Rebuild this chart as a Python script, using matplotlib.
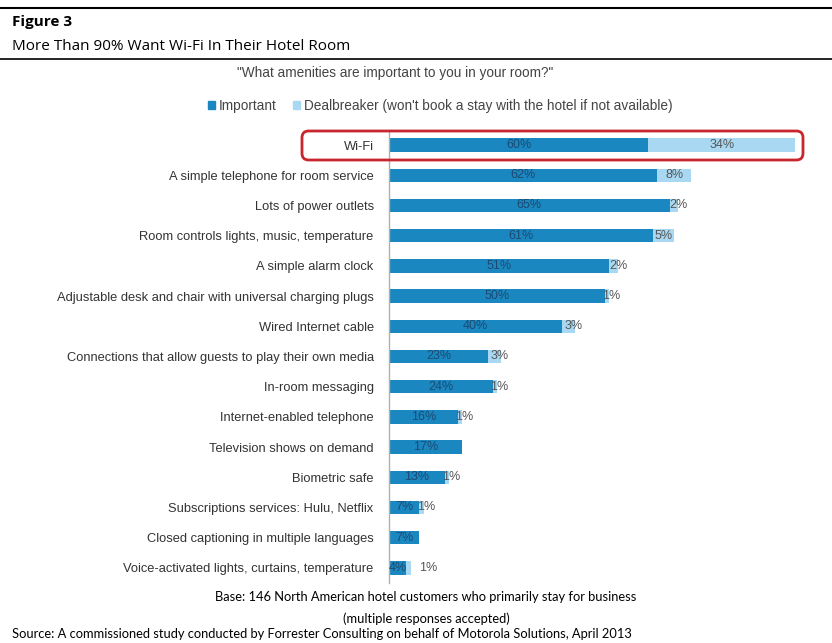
import matplotlib
matplotlib.use("Agg")
import matplotlib.pyplot as plt
from matplotlib.patches import FancyBboxPatch, Rectangle
from matplotlib.lines import Line2D

categories = [
    "Wi-Fi",
    "A simple telephone for room service",
    "Lots of power outlets",
    "Room controls lights, music, temperature",
    "A simple alarm clock",
    "Adjustable desk and chair with universal charging plugs",
    "Wired Internet cable",
    "Connections that allow guests to play their own media",
    "In-room messaging",
    "Internet-enabled telephone",
    "Television shows on demand",
    "Biometric safe",
    "Subscriptions services: Hulu, Netflix",
    "Closed captioning in multiple languages",
    "Voice-activated lights, curtains, temperature",
]
important = [60, 62, 65, 61, 51, 50, 40, 23, 24, 16, 17, 13, 7, 7, 4]
dealbreaker = [34, 8, 2, 5, 2, 1, 3, 3, 1, 1, 0, 1, 1, 0, 1]

c_imp = "#1a87c0"
c_deal = "#a9d9f2"
c_imp_txt = "#1c4a72"
c_deal_txt = "#555555"

W, H = 832, 643
fig = plt.figure(figsize=(W / 100, H / 100), dpi=100)

# axes placed by pixel positions of the reference
ax = fig.add_axes([389 / W, 1 - 583 / H, 432 / W, 453 / H])
y = list(range(len(categories)))
ax.barh(y, important, height=0.45, color=c_imp)
ax.barh(y, dealbreaker, left=important, height=0.45, color=c_deal)

for i in y:
    ax.text(important[i] / 2, i, f"{important[i]}%", ha="center", va="center",
            fontsize=9, color=c_imp_txt, family="Liberation Sans")
    d = dealbreaker[i]
    if d > 0:
        # small segments: label sits just past the end of the bar
        if d >= 5:
            xc = important[i] + d / 2
        else:
            xc = important[i] + 0.6 * d + 0.9
        if i == len(categories) - 1:
            xc = important[i] + 5.1
        ax.text(xc, i, f"{d}%", ha="center", va="center",
                fontsize=9, color=c_deal_txt, family="Liberation Sans")

ax.set_xlim(0, 100)
ax.set_ylim(len(categories) - 0.5, -0.5)
ax.set_yticks(y)
ax.set_yticklabels(categories, fontsize=9.3, family="Liberation Sans", color="#333333")
ax.tick_params(axis="y", length=0, pad=11)
ax.set_xticks([])
for s in ["top", "right", "bottom"]:
    ax.spines[s].set_visible(False)
ax.spines["left"].set_color("#b0b0b0")
ax.spines["left"].set_linewidth(1)

# red highlight box around Wi-Fi row
box = FancyBboxPatch((302 / W, 1 - 160 / H), 501 / W, 29 / H,
                     boxstyle="round,pad=0,rounding_size=0.008",
                     mutation_aspect=W / H, transform=fig.transFigure,
                     fill=False, edgecolor="#c9252c", lw=2)
fig.patches.append(box)

# header rules and titles
fig.add_artist(Line2D([0, 1], [1 - 8 / H, 1 - 8 / H], color="black", lw=1.5,
                      transform=fig.transFigure))
fig.add_artist(Line2D([0, 1], [1 - 59 / H, 1 - 59 / H], color="black", lw=1.2,
                      transform=fig.transFigure))
fig.text(12 / W, 1 - 22 / H, "Figure 3", fontsize=11, fontweight="bold",
         family="Open Sans", va="center", ha="left")
fig.text(12 / W, 1 - 46 / H, "More Than 90% Want Wi-Fi In Their Hotel Room",
         fontsize=11, family="Open Sans", va="center", ha="left")
fig.text(395 / W, 1 - 73 / H, "\"What amenities are important to you in your room?\"",
         fontsize=9.8, family="Liberation Sans", color="#444444",
         va="center", ha="center")

# legend
handles = [Rectangle((0, 0), 1, 1, color=c_imp), Rectangle((0, 0), 1, 1, color=c_deal)]
fig.legend(handles, ["Important",
                     "Dealbreaker (won't book a stay with the hotel if not available)"],
           loc="center", bbox_to_anchor=(440 / W, 1 - 106 / H), ncol=2,
           frameon=False, handlelength=0.5, handleheight=0.5, handletextpad=0.3,
           columnspacing=1.2, prop={"family": "Liberation Sans", "size": 9.8},
           labelcolor="#444444")

# footer
fig.text(426 / W, 1 - 597 / H,
         "Base: 146 North American hotel customers who primarily stay for business",
         fontsize=9.3, family="Lato", ha="center", va="center")
fig.text(426 / W, 1 - 619 / H, "(multiple responses accepted)",
         fontsize=9.3, family="Lato", ha="center", va="center")
fig.text(12 / W, 1 - 634 / H,
         "Source: A commissioned study conducted by Forrester Consulting on behalf of "
         "Motorola Solutions, April 2013",
         fontsize=9.3, family="Lato", ha="left", va="center")

fig.savefig("out.png", dpi=100)
